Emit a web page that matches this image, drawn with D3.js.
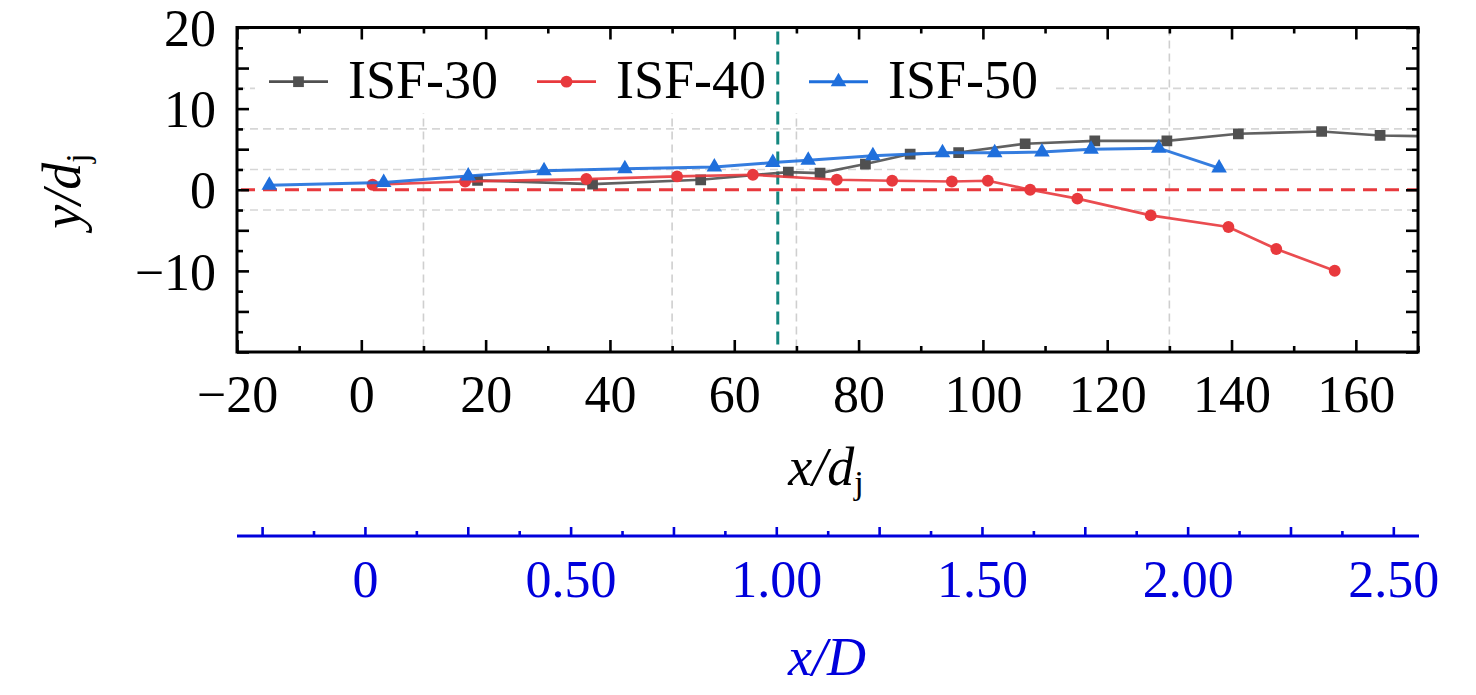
<!DOCTYPE html>
<html>
<head>
<meta charset="utf-8">
<script src="https://cdn.jsdelivr.net/npm/d3@7"></script>
<style>
  body { margin: 0; background: #fff; }
  svg { display: block; }
  text { font-family: "Liberation Serif", "Times New Roman", serif; }
</style>
</head>
<body>
<svg id="chart" width="1476" height="695"></svg>
<script>
// ---- data (x/dj , y/dj) ----
const isf30X = [18.7, 37.2, 54.6, 68.7, 73.8, 81.1, 88.3, 96.1, 106.8, 118.0, 129.6, 141.1, 154.5, 163.9, 172.0];
const isf30Y = [1.15, 0.70, 1.23, 2.18, 2.06, 3.17, 4.40, 4.59, 5.67, 6.03, 6.03, 6.90, 7.18, 6.69, 6.60];

const isf40X = [1.8, 16.7, 36.2, 50.8, 63.0, 76.5, 85.4, 95.0, 100.8, 107.6, 115.2, 127.0, 139.5, 147.2, 156.6];
const isf40Y = [0.62, 1.02, 1.32, 1.64, 1.85, 1.23, 1.11, 1.02, 1.11, 0.00, -1.10, -3.16, -4.59, -7.30, -9.98];

const isf50X = [-14.8, 3.6, 17.2, 29.4, 42.4, 56.8, 66.2, 71.9, 82.3, 93.5, 101.9, 109.5, 117.4, 128.3, 138.0];
const isf50Y = [0.55, 0.90, 1.70, 2.35, 2.60, 2.80, 3.35, 3.65, 4.20, 4.55, 4.55, 4.64, 5.00, 5.13, 2.67];

const seriesNames = ["ISF-30", "ISF-40", "ISF-50"];
const xTickLabels = [-20, 0, 20, 40, 60, 80, 100, 120, 140, 160];
const yTickLabels = [20, 10, 0, -10];
const xDTickLabels = [0, 0.5, 1.0, 1.5, 2.0, 2.5];
const gridX = [10, 50, 70, 130];
const gridY = [12.5, 7.5, 2.5, -2.5];
const refY = 0;        // red dashed line
const refX = 67;       // teal dashed line (x/D = 1)

// ---- layout ----
const plot = { left: 237, right: 1418, top: 27.5, bottom: 352 };
const colors = { gray: "#505050", red: "#e8393d", blue: "#1f6fdc", teal: "#14877f", axisBlue: "#0000dc" };

const svg = d3.select("#chart");
svg.append("rect").attr("width", 1476).attr("height", 695).attr("fill", "#fff");

const x = d3.scaleLinear().domain([-20, 170]).range([plot.left, plot.right]);
const y = d3.scaleLinear().domain([-20, 20]).range([plot.bottom, plot.top]);
const xD = d3.scaleLinear().domain([-0.311, 2.56]).range([plot.left, plot.right]);

svg.append("clipPath").attr("id", "clip")
  .append("rect")
  .attr("x", plot.left).attr("y", plot.top)
  .attr("width", plot.right - plot.left).attr("height", plot.bottom - plot.top);

// grid (faint dashed)
const grid = svg.append("g").attr("clip-path", "url(#clip)");
grid.selectAll("line.gy").data(gridY).enter().append("line")
  .attr("x1", plot.left).attr("x2", plot.right)
  .attr("y1", d => y(d)).attr("y2", d => y(d))
  .attr("stroke", "#d6d6d6").attr("stroke-width", 1.6).attr("stroke-dasharray", "8,5");
grid.selectAll("line.gx").data(gridX).enter().append("line")
  .attr("y1", plot.top).attr("y2", plot.bottom)
  .attr("x1", d => x(d)).attr("x2", d => x(d))
  .attr("stroke", "#cfcfcf").attr("stroke-width", 1.6).attr("stroke-dasharray", "8,5");

// legend background covers grid
svg.append("rect")
  .attr("x", 255).attr("y", 32).attr("width", 800).attr("height", 81)
  .attr("fill", "#fff");

// reference lines
svg.append("line")
  .attr("x1", plot.left + 4).attr("x2", plot.right)
  .attr("y1", y(refY)).attr("y2", y(refY))
  .attr("stroke", colors.red).attr("stroke-width", 3).attr("stroke-dasharray", "14,8");
svg.append("line")
  .attr("x1", x(refX)).attr("x2", x(refX))
  .attr("y1", plot.top + 4).attr("y2", plot.bottom)
  .attr("stroke", colors.teal).attr("stroke-width", 3).attr("stroke-dasharray", "13,7");

// series
const series = [
  { name: seriesNames[0], xs: isf30X, ys: isf30Y, color: colors.gray, symbol: d3.symbolSquare, size: 115, width: 2.7 },
  { name: seriesNames[1], xs: isf40X, ys: isf40Y, color: colors.red, symbol: d3.symbolCircle, size: 110, width: 2.7 },
  { name: seriesNames[2], xs: isf50X, ys: isf50Y, color: colors.blue, symbol: d3.symbolTriangle, size: 105, width: 3 }
];

const line = d3.line().x(d => x(d[0])).y(d => y(d[1]));
const dataLayer = svg.append("g").attr("clip-path", "url(#clip)");

series.forEach(s => {
  const pts = s.xs.map((v, i) => [v, s.ys[i]]);
  dataLayer.append("path")
    .datum(pts)
    .attr("d", line)
    .attr("fill", "none")
    .attr("stroke", s.color)
    .attr("stroke-width", s.width)
    .attr("opacity", 0.9);
  dataLayer.selectAll(null).data(pts).enter().append("path")
    .attr("d", d3.symbol().type(s.symbol).size(s.size))
    .attr("transform", d => `translate(${x(d[0])},${y(d[1])})`)
    .attr("fill", s.color);
});

// legend
const legendX = [269, 537, 809];
const legendY = 81.7;
series.forEach((s, i) => {
  const g = svg.append("g").attr("transform", `translate(${legendX[i]},${legendY})`);
  g.append("line").attr("x1", 0).attr("x2", 59).attr("y1", 0).attr("y2", 0)
    .attr("stroke", s.color).attr("stroke-width", s.width);
  g.append("path")
    .attr("d", d3.symbol().type(s.symbol).size(s.size))
    .attr("transform", "translate(29.5,0)")
    .attr("fill", s.color);
  g.append("text")
    .attr("x", 79).attr("y", 16.5)
    .attr("font-size", 54)
    .attr("fill", "#000")
    .text(s.name);
});

// axes: inward ticks, labels outside
const minus = v => (v < 0 ? "\u2212" + Math.abs(v) : String(v));

const xMajor = d3.range(-20, 171, 20);
const xMinor = d3.range(-10, 171, 20);
const yMajor = d3.range(-20, 21, 5);
const yMinor = d3.range(-17.5, 20, 5);

function styleAxis(g) {
  g.select(".domain").remove();
  g.selectAll(".tick line").attr("stroke", "#000").attr("stroke-width", 2.6);
}

// bottom
svg.append("g").attr("transform", `translate(0,${plot.bottom})`)
  .call(d3.axisBottom(x).tickValues(xMinor).tickSizeInner(-6).tickFormat(""))
  .call(styleAxis);
svg.append("g").attr("transform", `translate(0,${plot.bottom})`)
  .call(d3.axisBottom(x).tickValues(xMajor).tickSizeInner(-12).tickPadding(23)
    .tickFormat(d => xTickLabels.includes(d) ? minus(d) : ""))
  .call(styleAxis)
  .call(g => g.selectAll("text").attr("font-size", 52).attr("fill", "#000")
    .attr("font-family", '"Liberation Serif", serif'));
// top
svg.append("g").attr("transform", `translate(0,${plot.top})`)
  .call(d3.axisTop(x).tickValues(xMinor).tickSizeInner(-6).tickFormat(""))
  .call(styleAxis);
svg.append("g").attr("transform", `translate(0,${plot.top})`)
  .call(d3.axisTop(x).tickValues(xMajor).tickSizeInner(-12).tickFormat(""))
  .call(styleAxis);
// left
svg.append("g").attr("transform", `translate(${plot.left},0)`)
  .call(d3.axisLeft(y).tickValues(yMinor).tickSizeInner(-6).tickFormat(""))
  .call(styleAxis);
svg.append("g").attr("transform", `translate(${plot.left},0)`)
  .call(d3.axisLeft(y).tickValues(yMajor).tickSizeInner(-12).tickPadding(21)
    .tickFormat(d => yTickLabels.includes(d) ? minus(d) : ""))
  .call(styleAxis)
  .call(g => g.selectAll("text").attr("font-size", 52).attr("fill", "#000").attr("dy", "0.35em")
    .attr("font-family", '"Liberation Serif", serif'));
// right
svg.append("g").attr("transform", `translate(${plot.right},0)`)
  .call(d3.axisRight(y).tickValues(yMinor).tickSizeInner(-6).tickFormat(""))
  .call(styleAxis);
svg.append("g").attr("transform", `translate(${plot.right},0)`)
  .call(d3.axisRight(y).tickValues(yMajor).tickSizeInner(-12).tickFormat(""))
  .call(styleAxis);

// frame
svg.append("rect")
  .attr("x", plot.left).attr("y", plot.top)
  .attr("width", plot.right - plot.left).attr("height", plot.bottom - plot.top)
  .attr("fill", "none").attr("stroke", "#000").attr("stroke-width", 3);

// axis titles
const yTitle = svg.append("text")
  .attr("transform", "translate(80,191) rotate(-90)")
  .attr("text-anchor", "middle")
  .attr("font-size", 54)
  .attr("fill", "#000");
yTitle.append("tspan").attr("font-style", "italic").text("y/d");
yTitle.append("tspan").attr("font-size", 34).attr("dy", 9).text("j");

const xTitle = svg.append("text")
  .attr("x", 826).attr("y", 485)
  .attr("text-anchor", "middle")
  .attr("font-size", 54)
  .attr("fill", "#000");
xTitle.append("tspan").attr("font-style", "italic").text("x/d");
xTitle.append("tspan").attr("font-size", 34).attr("dy", 9).text("j");

// secondary x/D axis (blue)
const axisDY = 536;
const xDMajor = d3.range(-0.25, 2.56, 0.25);
const xDMinor = d3.range(-0.125, 2.56, 0.25);
svg.append("line")
  .attr("x1", plot.left).attr("x2", plot.right + 1)
  .attr("y1", axisDY).attr("y2", axisDY)
  .attr("stroke", colors.axisBlue).attr("stroke-width", 3.2);
svg.append("g").attr("transform", `translate(0,${axisDY})`)
  .call(d3.axisBottom(xD).tickValues(xDMinor).tickSizeInner(-5).tickFormat(""))
  .call(g => g.select(".domain").remove())
  .call(g => g.selectAll(".tick line").attr("stroke", colors.axisBlue).attr("stroke-width", 2.6));
svg.append("g").attr("transform", `translate(0,${axisDY})`)
  .call(d3.axisBottom(xD).tickValues(xDMajor).tickSizeInner(-9).tickPadding(24)
    .tickFormat(d => {
      const hit = xDTickLabels.find(v => Math.abs(v - d) < 1e-6);
      if (hit === undefined) return "";
      return hit === 0 ? "0" : d3.format(".2f")(hit);
    }))
  .call(g => g.select(".domain").remove())
  .call(g => g.selectAll(".tick line").attr("stroke", colors.axisBlue).attr("stroke-width", 2.6))
  .call(g => g.selectAll("text").attr("font-size", 52).attr("fill", colors.axisBlue)
    .attr("font-family", '"Liberation Serif", serif'));

svg.append("text")
  .attr("x", 827).attr("y", 675)
  .attr("text-anchor", "middle")
  .attr("font-size", 54)
  .attr("font-style", "italic")
  .attr("fill", colors.axisBlue)
  .text("x/D");
</script>
</body>
</html>
